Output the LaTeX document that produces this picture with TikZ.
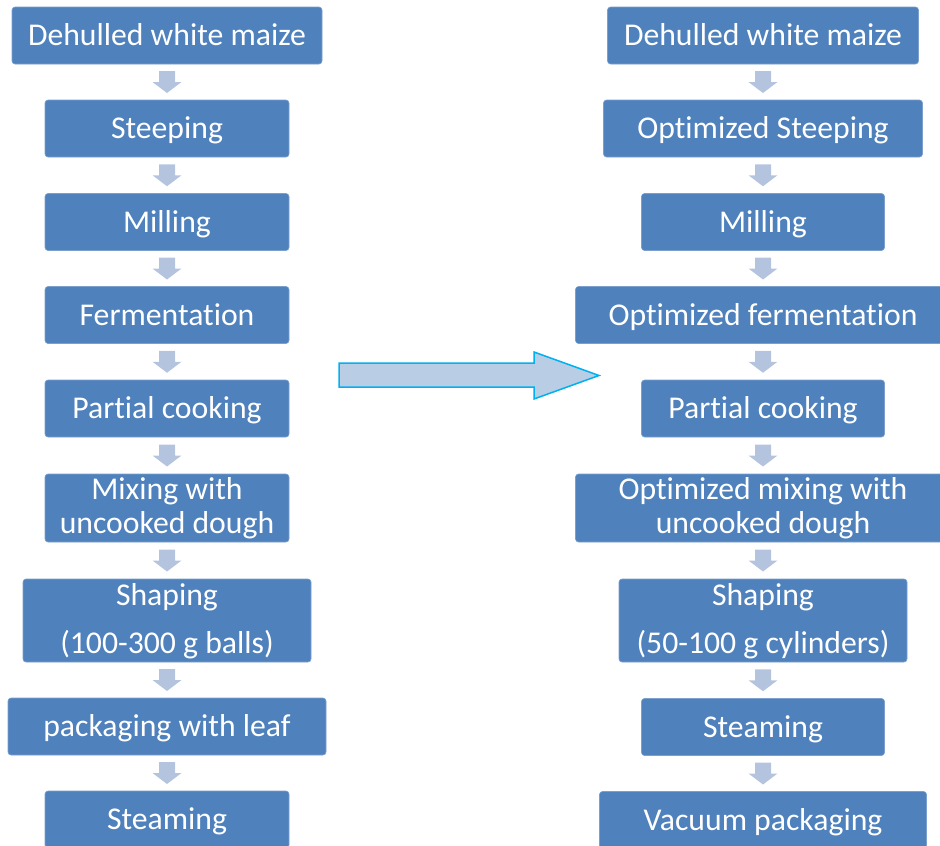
\documentclass[tikz,border=0pt]{standalone}
\usepackage{fontspec}
\setmainfont{Carlito}[Ligatures={NoCommon}]
\usetikzlibrary{calc}
\definecolor{boxblue}{HTML}{4F81BD}
\definecolor{arrowc}{HTML}{B4C4DF}
\definecolor{bigfill}{HTML}{B9CDE5}
\definecolor{bigline}{HTML}{00B0F0}
\newcommand\downarr[2]{%
  \coordinate (m#1#2) at ($(#1.south)!0.5!(#2.north)$);
  \fill[arrowc] ([shift={(-8,-11)}]m#1#2) -- ([shift={(8,-11)}]m#1#2) -- ([shift={(8,0)}]m#1#2)
    -- ([shift={(14.5,0)}]m#1#2) -- ([shift={(0,11)}]m#1#2) -- ([shift={(-14.5,0)}]m#1#2)
    -- ([shift={(-8,0)}]m#1#2) -- cycle;}
\begin{document}
\begin{tikzpicture}[x=1pt,y=-1pt,
  stepbox/.style={rectangle, rounded corners=3pt, fill=boxblue, draw=boxblue!75!white,
    line width=0.6pt, minimum height=57pt, text=white, inner sep=0pt, outer sep=0pt,
    font=\fontsize{31.7}{38}\selectfont, text height=20.4pt, text depth=0pt},
  txt/.style={text=white, inner sep=0pt, anchor=base, font=\fontsize{31.7}{38}\selectfont}]
\useasboundingbox (0,0) rectangle (940,846);
\clip (0,0) rectangle (940,846);
% left column
\node[stepbox, minimum width=310pt] (L1) at (167,35.5) {Dehulled white maize};
\node[stepbox, minimum width=244pt] (L2) at (167,128.5) {Steeping};
\node[stepbox, minimum width=244pt] (L3) at (167,222) {Milling};
\node[stepbox, minimum width=244pt] (L4) at (167,315) {Fermentation};
\node[stepbox, minimum width=244pt] (L5) at (167,408.5) {Partial cooking};
\node[stepbox, minimum width=244pt, minimum height=68pt] (L6) at (167,508) {};
\node[txt] (L6a) at (167,499) {Mixing with};
\node[txt] (L6b) at (167,533) {uncooked dough};
\node[stepbox, minimum width=288pt, minimum height=83pt] (L7) at (167,620.5) {};
\node[txt] (L7a) at (167,605) {Shaping};
\node[txt] (L7b) at (167,653) {(100-300 g balls)};
\node[stepbox, minimum width=318pt] (L8) at (167,726.5) {packaging with leaf};
\node[stepbox, minimum width=244pt] (L9) at (167,819.5) {Steaming};
% right column
\node[stepbox, minimum width=311pt] (R1) at (763,35.5) {Dehulled white maize};
\node[stepbox, minimum width=319pt] (R2) at (763,128.5) {Optimized Steeping};
\node[stepbox, minimum width=243pt] (R3) at (763,222) {Milling};
\node[stepbox, minimum width=375pt] (R4) at (763,315) {Optimized fermentation};
\node[stepbox, minimum width=243pt] (R5) at (763,408.5) {Partial cooking};
\node[stepbox, minimum width=375pt, minimum height=68pt] (R6) at (763,508) {};
\node[txt] (R6a) at (763,499) {Optimized mixing with};
\node[txt] (R6b) at (763,533) {uncooked dough};
\node[stepbox, minimum width=288pt, minimum height=83pt] (R7) at (763,620.5) {};
\node[txt] (R7a) at (763,605) {Shaping};
\node[txt] (R7b) at (763,653) {(50-100 g cylinders)};
\node[stepbox, minimum width=243pt] (R8) at (763,727) {Steaming};
\node[stepbox, minimum width=327pt] (R9) at (763,820) {Vacuum packaging};
% small arrows
\downarr{L1}{L2}\downarr{L2}{L3}\downarr{L3}{L4}\downarr{L4}{L5}
\downarr{L5}{L6}\downarr{L6}{L7}\downarr{L7}{L8}\downarr{L8}{L9}
\downarr{R1}{R2}\downarr{R2}{R3}\downarr{R3}{R4}\downarr{R4}{R5}
\downarr{R5}{R6}\downarr{R6}{R7}\downarr{R7}{R8}\downarr{R8}{R9}
% big arrow
\filldraw[fill=bigfill, draw=bigline, line width=1.5pt]
  (339,363) -- (534,363) -- (534,352) -- (599,375.5) -- (534,399) -- (534,387) -- (339,387) -- cycle;
\end{tikzpicture}
\end{document}
